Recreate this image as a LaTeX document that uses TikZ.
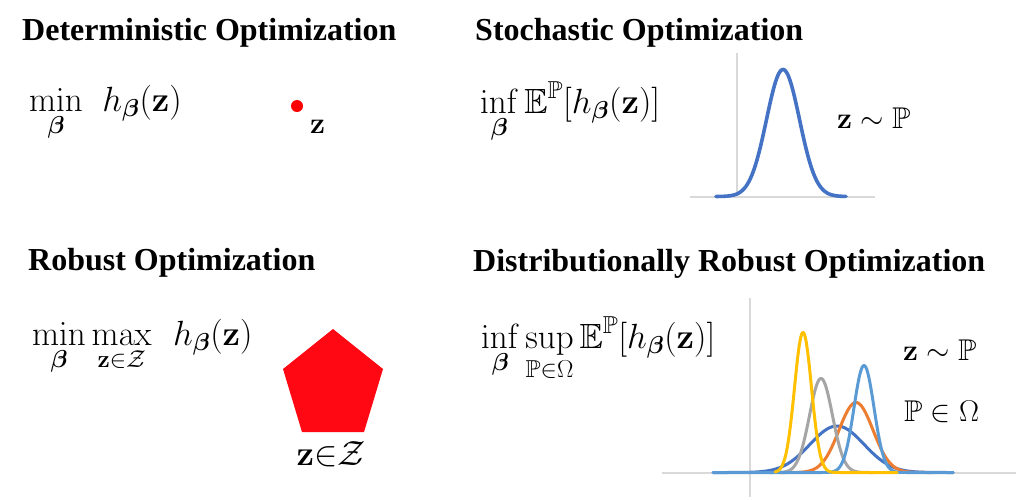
\RequirePackage{fix-cm}
\documentclass[tikz,border=0pt]{standalone}
\usepackage{amsmath,amssymb,bm}
\usepackage[no-math]{fontspec}
\setmainfont{Liberation Serif}
\definecolor{sblue}{HTML}{4472C4}
\definecolor{sorange}{HTML}{ED7D31}
\definecolor{sgray}{HTML}{A5A5A5}
\definecolor{syellow}{HTML}{FFC000}
\definecolor{slblue}{HTML}{5B9BD5}
\definecolor{axisgray}{HTML}{D9D9D9}
\definecolor{pentred}{HTML}{FF0814}
\begin{document}
\begin{tikzpicture}[x=1pt,y=-1pt,
  title/.style={anchor=base west, inner sep=0pt, font=\fontsize{32}{38}\selectfont\bfseries},
  mtext/.style={anchor=base west, inner sep=0pt, font=\fontsize{35}{40}\selectfont},
  ltext/.style={anchor=base west, inner sep=0pt, font=\fontsize{30}{36}\selectfont},
  axisline/.style={draw=axisgray, line width=1.3pt},
  curve/.style={line width=3pt, line join=round, line cap=round}]
\useasboundingbox (0,0) rectangle (1024,499);
\fill[white] (0,0) rectangle (1024,499);
% titles
\node[title] (t1) at (22,40) {Deterministic Optimization};
\node[title] (t2) at (475,40) {Stochastic Optimization};
\node[title] (t3) at (28,270) {Robust Optimization};
\node[title] (t4) at (473,271) {Distributionally Robust Optimization};
% deterministic
\node[mtext] (f1) at (29,111) {$\displaystyle\min_{\boldsymbol\beta}\mkern7mu h_{\boldsymbol\beta}(\mathbf z)$};
\fill[red] (297,106) circle[radius=6];
\node[ltext] (z1) at (310,133) {$\mathbf z$};
% stochastic
\node[mtext] (f2) at (480,113) {$\displaystyle\inf_{\boldsymbol\beta}\mathbb E^{\mathbb P}[h_{\boldsymbol\beta}(\mathbf z)]$};
\draw[axisline] (737,53) -- (737,197);
\draw[axisline] (690,197) -- (875,197);
\draw[curve, sblue, line width=3.6pt] plot[domain=716:846, samples=140] (\x,{196.5-127*exp(-((\x-783)/16.5)^2/2)});
\node[ltext] (z2) at (837,128) {$\mathbf z\sim\mathbb P$};
% robust
\node[mtext] (f3) at (32,345) {$\displaystyle\min_{\boldsymbol\beta}\max_{\mathbf z\in\mathcal Z}\mkern8mu h_{\boldsymbol\beta}(\mathbf z)$};
\fill[pentred] (333,329) -- (383,369) -- (364,432) -- (302,432) -- (283,369) -- cycle;
\node[mtext, anchor=base] (z3) at (331,465) {$\mathbf z{\in}\mathcal Z$};
% DRO
\node[mtext] (f4) at (481,348) {$\displaystyle\inf_{\boldsymbol\beta}\sup_{\mathbb P\in\Omega}\mathbb E^{\mathbb P}[h_{\boldsymbol\beta}(\mathbf z)]$};
\draw[axisline] (750,298) -- (750,497);
\draw[axisline] (662,473) -- (1016,473);
\draw[curve, sblue] plot[domain=713:953, samples=160] (\x,{472.5-46.5*exp(-((\x-837)/27)^2/2)});
\draw[curve, sorange] plot[domain=780:932, samples=120] (\x,{472.5-70*exp(-((\x-856)/17)^2/2)});
\draw[curve, sgray] plot[domain=769:873, samples=120] (\x,{472.5-94*exp(-((\x-821)/11.5)^2/2)});
\draw[curve, slblue] (713,472.5) -- plot[domain=819:909, samples=120] (\x,{472.5-107*exp(-((\x-864)/10)^2/2)}) -- (953,472.5);
\draw[curve, syellow] plot[domain=775:841, samples=120] (\x,{472.5-140*exp(-((\x-803)/8.5)^2/2)}) -- (897,472.5);
\node[ltext] (z4) at (903,360) {$\mathbf z\sim\mathbb P$};
\node[ltext] (p4) at (904,421) {$\mathbb P\in\Omega$};
\end{tikzpicture}
\end{document}
